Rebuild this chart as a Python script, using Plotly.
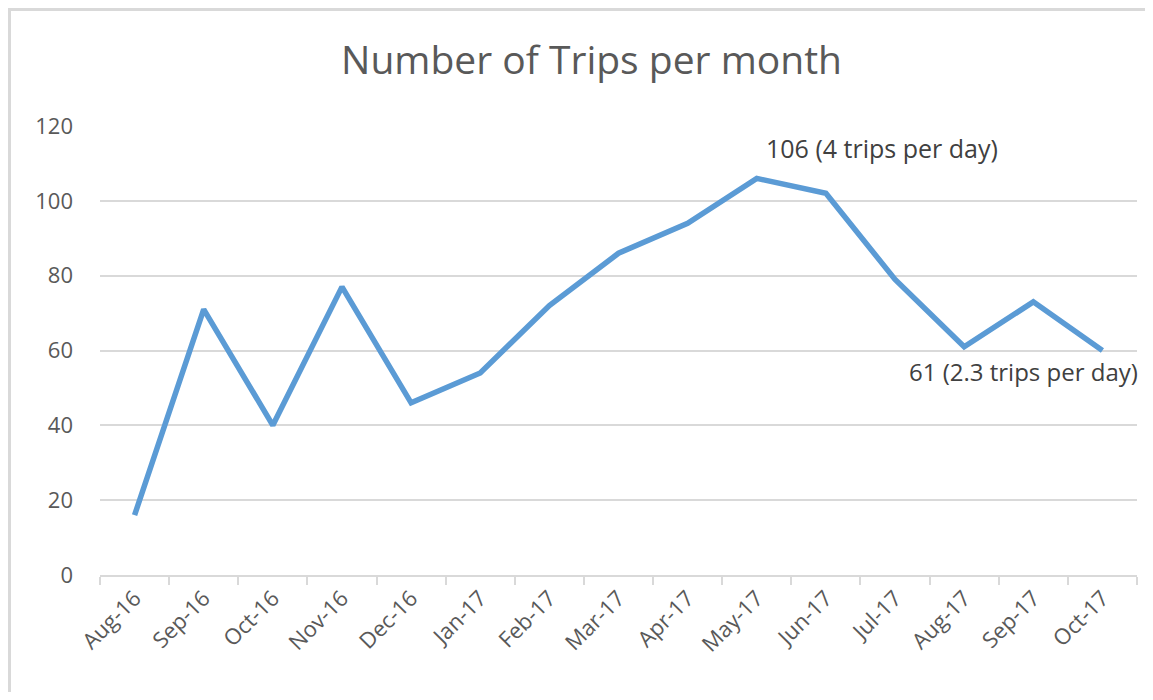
import plotly.graph_objects as go

months = ["Aug-16", "Sep-16", "Oct-16", "Nov-16", "Dec-16", "Jan-17", "Feb-17", "Mar-17",
          "Apr-17", "May-17", "Jun-17", "Jul-17", "Aug-17", "Sep-17", "Oct-17"]
trips = [16, 71, 40, 77, 46, 54, 72, 86, 94, 106, 102, 79, 61, 73, 60]
y_ticks = [0, 20, 40, 60, 80, 100, 120]

# page body has an 8px margin, so figure pixel = screen pixel - 8
W, H = 1145, 684
ML, MR, MT, MB = 92, 16, 118, 117
PW, PH = W - ML - MR, H - MT - MB

def px_x(px):
    return (px - ML) / PW

def px_y(py):
    return (H - MB - py) / PH

FONT = "Open Sans"

fig = go.Figure()
fig.add_trace(go.Scatter(
    x=months, y=trips, mode="lines",
    line=dict(color="#5b9bd5", width=5.5),
    hoverinfo="x+y", showlegend=False,
))

fig.add_annotation(x="May-17", y=106, text="106 (4 trips per day)", showarrow=False,
                   xanchor="left", yanchor="middle", xshift=7, yshift=30,
                   font=dict(family=FONT, size=25, color="#404040"))
fig.add_annotation(x="Aug-17", y=61, text="61 (2.3 trips per day)", showarrow=False,
                   xanchor="left", yanchor="middle", xshift=-57, yshift=-25,
                   font=dict(family=FONT, size=24, color="#404040"))

# chart border: only the top and left edges are inside the view
fig.add_shape(type="line", xref="paper", yref="paper",
              x0=px_x(0), x1=px_x(W), y0=px_y(1.5), y1=px_y(1.5),
              line=dict(color="#d9d9d9", width=3), layer="below")
fig.add_shape(type="line", xref="paper", yref="paper",
              x0=px_x(1.5), x1=px_x(1.5), y0=px_y(0), y1=px_y(H),
              line=dict(color="#d9d9d9", width=3), layer="below")

fig.update_layout(
    width=W, height=H,
    margin=dict(l=ML, r=MR, t=MT, b=MB),
    paper_bgcolor="white", plot_bgcolor="white",
    title=dict(text="Number of Trips per month", x=583.5 / W, xanchor="center",
               y=1 - 52 / H, yanchor="middle",
               font=dict(family=FONT, size=39, color="#595959")),
    font=dict(family=FONT, color="#595959"),
    xaxis=dict(
        type="category", tickson="boundaries", showgrid=False,
        showline=True, linecolor="#d9d9d9", linewidth=1.5,
        ticks="outside", ticklen=8, tickcolor="#d9d9d9", tickwidth=1.5,
        tickangle=-45, tickfont=dict(family=FONT, size=22, color="#595959"),
        range=[-0.5, len(months) - 0.5],
    ),
    yaxis=dict(
        range=[0, 120], tickvals=y_ticks, showgrid=True, gridcolor="#d9d9d9", gridwidth=1.5,
        zeroline=False, showline=False, ticks="", ticklabelstandoff=26,
        tickfont=dict(family=FONT, size=22, color="#595959"),
    ),
)

fig.write_html("out.html")
